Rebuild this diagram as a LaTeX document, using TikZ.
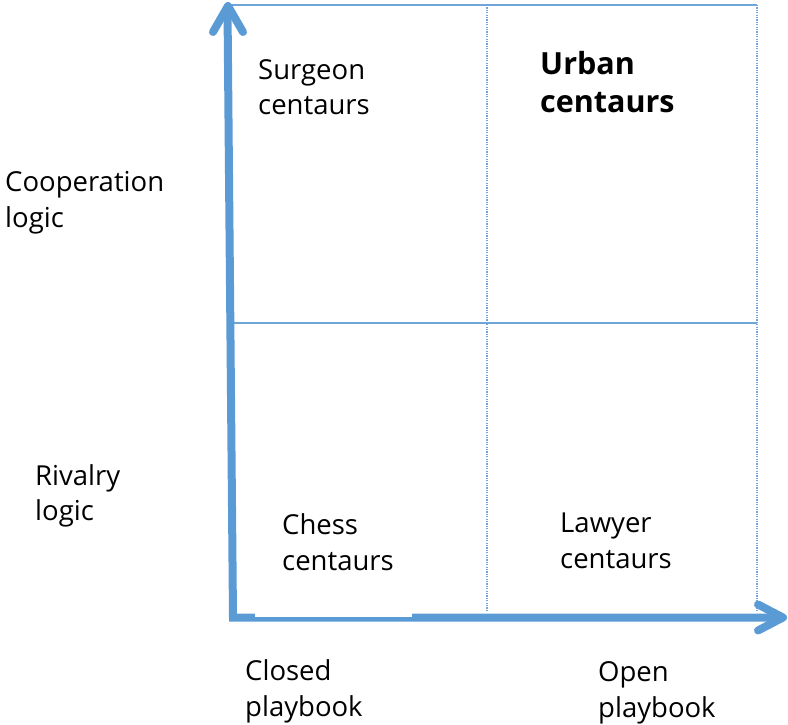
\documentclass[tikz,border=0pt]{standalone}
\usepackage{fontspec}
\setmainfont{Open Sans}
\definecolor{axisblue}{HTML}{5B9BD5}
\definecolor{gridblue}{HTML}{6FA5D8}
\tikzset{
  axisline/.style={draw=axisblue, line width=8pt},
  barb/.style={draw=axisblue, line width=8pt, line cap=round, line join=round},
  gridsolid/.style={draw=gridblue, line width=1.5pt},
  griddot/.style={draw=gridblue, line width=1.2pt, dash pattern=on 1.2pt off 1.2pt},
  lbl/.style={anchor=base west, inner sep=0pt, align=left,
    font=\fontsize{27.5}{35.5}\selectfont},
  boldlbl/.style={anchor=base west, inner sep=0pt, align=left,
    font=\fontsize{30.5}{38}\selectfont\bfseries},
}
\begin{document}
\begin{tikzpicture}[x=1pt,y=-1pt]
\useasboundingbox (0,0) rectangle (788,725);
% grid
\draw[gridsolid] (230,5) -- (757,5);
\draw[gridsolid] (233,323) -- (757,323);
\draw[griddot] (487,5) -- (487,612);
\draw[griddot] (757,5) -- (757,612);
% axes
\draw[axisline, line join=miter] (227.5,8) -- (233,617.5) -- (780,617.5);
\fill[white] (255,612.5) rectangle (412,616.8);
\draw[barb] (213,32) -- (228,6) -- (243,32);
\draw[barb] (758,604.5) -- (783,617.5) -- (758,630.5);
% labels (anchored at the baseline of the last line)
\node[lbl] (surgeon) at (258,114.5) {Surgeon\\centaurs};
\node[boldlbl] (urban) at (540,113) {Urban\\centaurs};
\node[lbl] (coop) at (5,227) {Cooperation\\logic};
\node[lbl] (rival) at (35,520.5) {Rivalry\\logic};
\node[lbl] (chess) at (282,570) {Chess\\centaurs};
\node[lbl] (lawyer) at (560,568) {Lawyer\\centaurs};
\node[lbl] (closed) at (245,716) {Closed\\playbook};
\node[lbl] (open) at (598,717) {Open\\playbook};
\end{tikzpicture}
\end{document}
